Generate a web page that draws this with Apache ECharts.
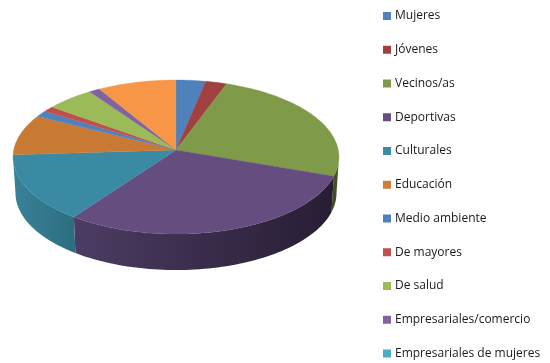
<!DOCTYPE html>
<html><head><meta charset="utf-8">
<style>html,body{margin:0;padding:0;background:#fff}#c{width:550px;height:363px;filter:blur(0.45px)}</style>
<script src="https://cdn.jsdelivr.net/npm/echarts@6/dist/echarts.min.js"></script>
</head><body><div id="c"></div>
<script>
const categories = ['Mujeres','Jóvenes','Vecinos/as','Deportivas','Culturales','Educación','Medio ambiente','De mayores','De salud','Empresariales/comercio','Empresariales de mujeres','Otras'];
const values = [3.2,2.3,24.9,29.5,14.1,8.6,1.3,1.2,5.2,1.2,0,8.5];
const legendNames = categories.slice(0,11);
const topColors = ['#4f81bd','#a04040','#7f9a48','#664d80','#3b8aa3','#c87a35','#4f81bd','#c0504d','#9bbb59','#8064a2','#4bacc6','#f79646'];
const legendColors = ['#4f81bd','#a04040','#7f9a48','#664d80','#3b8ba3','#cf7e38','#4f81bd','#c0504d','#9bbb59','#8064a2','#4bacc6','#f79646'];
const sideStops = {2:['#3a4a20','#46582a'],3:['#4c3c63','#271d33'],4:['#3a8298','#2c6d80']};

const cx=176, cy=150, A=162.3, B=76.4, K=0.0909, DEPTH=36, SHRINK=0.985;
const total = values.reduce((a,b)=>a+b,0);
function proj(deg, bottom){
  const t=deg*Math.PI/180, X=Math.sin(t), Y=-Math.cos(t), w=1-K*Y;
  const x=A*X/w, y=B*Y/w;
  return bottom ? [cx+x*SHRINK, cy+y+DEPTH] : [cx+x, cy+y];
}
function arc(a,b,bottom){
  const pts=[], n=Math.max(2,Math.ceil((b-a)/1.5));
  for(let i=0;i<=n;i++) pts.push(proj(a+(b-a)*i/n,bottom));
  return pts;
}
const VIS0=95.2, VIS1=264.8;
function bounds(idx){
  let s=0; for(let i=0;i<idx;i++) s+=values[i];
  return [s/total*360,(s+values[idx])/total*360];
}
const series = categories.map((name,idx)=>({
  type:'custom', name, coordinateSystem:'none', silent:true,
  z:2, color:legendColors[idx],
  data:[[values[idx]]],
  renderItem(params,api){
    const [a,b]=bounds(idx);
    const children=[];
    if(api.value(0)<=0) return {type:'group',children};
    const va=Math.max(a,VIS0), vb=Math.min(b,VIS1);
    if(vb>va){
      const stops=sideStops[idx]||[topColors[idx],topColors[idx]];
      children.push({type:'polygon',z2:1,
        shape:{points:arc(va,vb,false).concat(arc(va,vb,true).reverse())},
        style:{fill:{type:'linear',x:0,y:0,x2:1,y2:0,colorStops:[{offset:0,color:stops[0]},{offset:1,color:stops[1]}]},stroke:null}});
    }
    children.push({type:'polygon',z2:2,
      shape:{points:[[cx,cy]].concat(arc(a,b,false))},
      style:{fill:topColors[idx],stroke:topColors[idx],lineWidth:0.3}});
    return {type:'group',children};
  }
}));
const chart=echarts.init(document.getElementById('c'),null,{renderer:'canvas'});
chart.setOption({
  animation:false, backgroundColor:'#fff',
  legend:{orient:'vertical',left:378,top:5,height:420,itemWidth:8,itemHeight:8,itemGap:21.75,
    icon:'rect',data:legendNames,selectedMode:false,
    textStyle:{fontFamily:'Open Sans',fontSize:12,color:'#1a1a1a',padding:[0,0,0,-1]}},
  series
});
</script></body></html>
